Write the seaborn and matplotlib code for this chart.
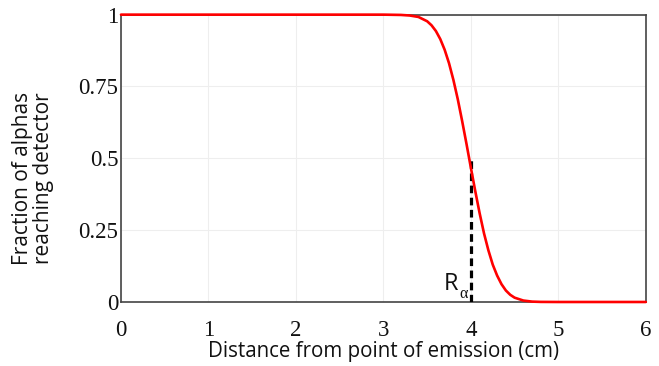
import matplotlib
matplotlib.use("Agg")
import matplotlib.pyplot as plt
import seaborn as sns
import pandas as pd

# Values
distance_cm = [0.0, 1.0, 2.0, 3.0, 3.2, 3.3, 3.4, 3.5, 3.55, 3.6, 3.65, 3.7, 3.75,
               3.8, 3.85, 3.9, 3.95, 4.0, 4.05, 4.1, 4.15, 4.2, 4.25, 4.3, 4.35,
               4.4, 4.45, 4.5, 4.6, 4.7, 4.8, 5.0, 5.5, 6.0]
fraction = [1.0, 1.0, 1.0, 1.0, 0.999, 0.997, 0.992, 0.977, 0.963, 0.943, 0.915,
            0.878, 0.831, 0.773, 0.706, 0.63, 0.55, 0.467, 0.386, 0.309, 0.239,
            0.18, 0.13, 0.092, 0.062, 0.040, 0.025, 0.015, 0.005, 0.0013, 0.0003,
            0.0, 0.0, 0.0]
range_alpha = 4.0
range_alpha_level = 0.5
x_ticks = [0, 1, 2, 3, 4, 5, 6]
x_tick_labels = ["0", "1", "2", "3", "4", "5", "6"]
y_ticks = [0, 0.25, 0.5, 0.75, 1]
y_tick_labels = ["0", "0.25", "0.5", "0.75", "1"]

df = pd.DataFrame({"distance": distance_cm, "fraction": fraction})

sns.set_theme(style="white")
plt.rcParams["font.family"] = ["Open Sans", "DejaVu Sans"]

fig = plt.figure(figsize=(6.59, 3.66), dpi=100)
ax = fig.add_axes([0.1836, 0.1749, 0.980 - 0.1836, 0.960 - 0.1749])

sns.lineplot(data=df, x="distance", y="fraction", ax=ax, color="#ff0000",
             linewidth=1.9, zorder=5, clip_on=False)

ax.plot([range_alpha, range_alpha], [0, range_alpha_level], color="black",
        linewidth=2.3, linestyle=(0, (2.4, 1.4)), zorder=4)
ax.text(range_alpha - 0.14, 0.042, "R", ha="right", va="baseline",
        fontsize=17, color="#111111")
ax.text(range_alpha - 0.035, 0.014, "α", ha="right", va="baseline",
        fontsize=11.5, color="#111111", family=["Liberation Serif"])

ax.set_xlim(0, 6)
ax.set_ylim(0, 1)
ax.set_xticks(x_ticks)
ax.set_xticklabels(x_tick_labels, family=["Liberation Serif"], fontsize=16.5)
ax.set_yticks(y_ticks)
ax.set_yticklabels(y_tick_labels, family=["Liberation Serif"], fontsize=16.5)
ax.tick_params(axis="both", length=0, colors="#111111")
ax.tick_params(axis="x", pad=13)
ax.tick_params(axis="y", pad=2)

ax.grid(True, color="#eeeeee", linewidth=0.8)
for s in ax.spines.values():
    s.set_color("#444444")
    s.set_linewidth(1.2)

ax.set_xlabel("Distance from point of emission (cm)", fontsize=14.8, color="#111111",
              labelpad=0)
ax.set_ylabel("Fraction of alphas\nreaching detector", fontsize=15, color="#111111",
              linespacing=1.0)
ax.yaxis.label.set_va("center")
ax.yaxis.label.set_ha("center")
ax.yaxis.set_label_coords(-0.168, 0.431)

fig.savefig("out.png", dpi=100, facecolor="white")
